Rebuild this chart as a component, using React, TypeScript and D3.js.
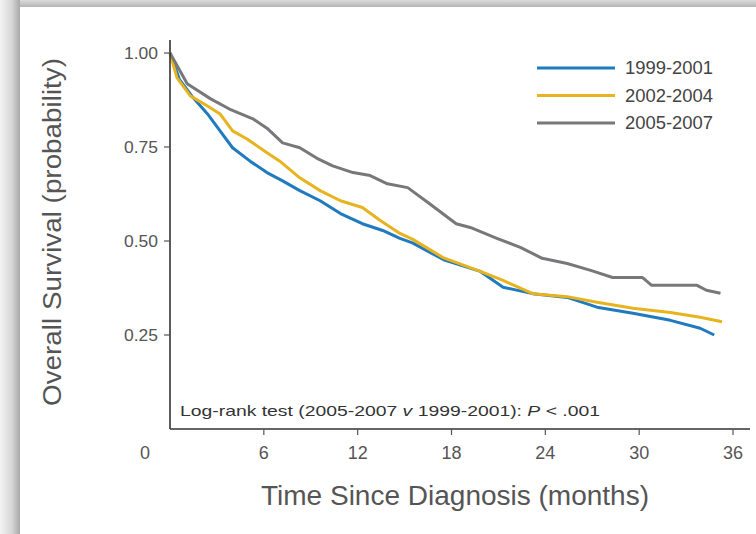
import React from "react";
import * as d3 from "d3";

const seriesNames = ["1999-2001", "2002-2004", "2005-2007"];
const seriesColors = ["#1f7abf", "#e7b41f", "#78787b"];

const months1999 = [0, 0.6, 1.5, 2.4, 3.2, 4.0, 5.1, 6.2, 7.2, 8.3, 9.6, 10.9, 12.3, 13.6, 14.7, 15.5, 17.5, 19.8, 21.3, 23.2, 25.4, 27.3, 29.6, 32.0, 33.9, 34.8];
const surv1999 = [1.0, 0.93, 0.88, 0.838, 0.793, 0.748, 0.713, 0.682, 0.66, 0.634, 0.607, 0.573, 0.546, 0.528, 0.507, 0.495, 0.45, 0.42, 0.377, 0.36, 0.35, 0.324, 0.308, 0.289, 0.268, 0.25];

const months2002 = [0, 0.45, 1.3, 2.4, 3.2, 4.0, 4.9, 6.2, 7.0, 8.3, 9.6, 10.9, 12.3, 13.4, 14.7, 15.5, 17.5, 19.8, 21.3, 23.2, 25.4, 27.3, 29.6, 32.0, 33.9, 35.3];
const surv2002 = [1.0, 0.934, 0.886, 0.859, 0.838, 0.793, 0.772, 0.735, 0.713, 0.668, 0.634, 0.607, 0.589, 0.556, 0.52, 0.505, 0.455, 0.42, 0.395, 0.36, 0.352, 0.337, 0.321, 0.31, 0.297, 0.285];

const months2005 = [0, 1.1, 2.6, 3.8, 5.3, 6.2, 7.2, 8.3, 9.4, 10.4, 11.7, 12.8, 13.9, 15.2, 16.6, 18.3, 19.2, 20.9, 22.4, 23.8, 25.4, 26.9, 28.3, 30.2, 30.8, 33.7, 34.3, 35.2];
const surv2005 = [1.0, 0.918, 0.878, 0.851, 0.825, 0.80, 0.761, 0.748, 0.72, 0.70, 0.682, 0.674, 0.652, 0.642, 0.599, 0.546, 0.536, 0.507, 0.483, 0.454, 0.44, 0.422, 0.403, 0.403, 0.382, 0.382, 0.369, 0.361];

const xTicks = [6, 12, 18, 24, 30, 36];
const yTicks = [0.25, 0.5, 0.75, 1.0];

const seriesMonths = [months1999, months2002, months2005];
const seriesSurv = [surv1999, surv2002, surv2005];

export default function App() {
  const W = 756;
  const H = 534;
  const x = d3.scaleLinear().domain([0, 36]).range([170, 733]);
  const y = d3.scaleLinear().domain([0, 1]).range([429, 53]);
  const line = d3
    .line<[number, number]>()
    .x((d) => x(d[0]))
    .y((d) => y(d[1]))
    .curve(d3.curveLinear);

  const x0 = x(0);
  const y0 = y(0);
  const font = "'Liberation Sans Narrow', 'Liberation Sans', Arial, sans-serif";

  return (
    <svg
      width={W}
      height={H}
      style={{ position: "absolute", left: 0, top: 0 }}
    >
      <defs>
        <linearGradient id="leftShadow" x1="0" x2="1" y1="0" y2="0">
          <stop offset="0" stopColor="#f4f4f4" />
          <stop offset="0.6" stopColor="#d6d6d6" />
          <stop offset="1" stopColor="#a8a8a8" />
        </linearGradient>
        <linearGradient id="topShadow" x1="0" x2="0" y1="0" y2="1">
          <stop offset="0" stopColor="#dcdcdc" />
          <stop offset="1" stopColor="#b4b4b4" />
        </linearGradient>
      </defs>
      <rect x={0} y={0} width={W} height={H} fill="#ffffff" />
      <rect x={0} y={0} width={W} height={7} fill="url(#topShadow)" />
      <rect x={0} y={0} width={20} height={H} fill="url(#leftShadow)" />

      {/* series */}
      {seriesMonths.map((ms, i) => {
        const pts: [number, number][] = ms.map((m, j) => [m, seriesSurv[i][j]]);
        return (
          <path
            key={seriesNames[i]}
            d={line(pts) || ""}
            fill="none"
            stroke={seriesColors[i]}
            strokeWidth={3}
            strokeLinejoin="round"
          />
        );
      })}

      {/* axes */}
      <line x1={x0} x2={x0} y1={40} y2={y0} stroke="#333" strokeWidth={1.6} />
      <line x1={x0} x2={750} y1={y0} y2={y0} stroke="#333" strokeWidth={1.6} />
      {yTicks.map((t) => (
        <g key={"y" + t}>
          <line x1={x0 - 6} x2={x0} y1={y(t)} y2={y(t)} stroke="#555" strokeWidth={1.2} />
          <text
            x={x0 - 12}
            y={y(t)}
            dy="0.35em"
            textAnchor="end"
            fontFamily={font}
            fontSize={17}
            fill="#555"
            textLength={34}
            lengthAdjust="spacingAndGlyphs"
          >
            {d3.format(".2f")(t)}
          </text>
        </g>
      ))}
      {xTicks.map((t) => (
        <g key={"x" + t}>
          <line x1={x(t)} x2={x(t)} y1={y0} y2={y0 + 6} stroke="#555" strokeWidth={1.2} />
          <text
            x={x(t)}
            y={y0 + 24}
            dy="0.35em"
            textAnchor="middle"
            fontFamily={font}
            fontSize={18}
            fill="#555"
          >
            {t}
          </text>
        </g>
      ))}
      <text
        x={x0 - 25}
        y={y0 + 24}
        dy="0.35em"
        textAnchor="middle"
        fontFamily={font}
        fontSize={18}
        fill="#555"
      >
        0
      </text>

      {/* axis titles */}
      <text
        transform={`translate(61, 232) rotate(-90)`}
        textAnchor="middle"
        fontFamily={font}
        fontSize={26}
        fill="#555"
        textLength={348}
        lengthAdjust="spacingAndGlyphs"
      >
        Overall Survival (probability)
      </text>
      <text
        x={455}
        y={505}
        textAnchor="middle"
        fontFamily={font}
        fontSize={27}
        fill="#555"
        textLength={388}
        lengthAdjust="spacingAndGlyphs"
      >
        Time Since Diagnosis (months)
      </text>

      {/* log-rank annotation */}
      <text
        x={180}
        y={416}
        fontFamily={font}
        fontSize={15}
        fill="#333"
        textLength={420}
        lengthAdjust="spacingAndGlyphs"
      >
        Log-rank test (2005-2007 <tspan fontStyle="italic">v</tspan> 1999-2001):{" "}
        <tspan fontStyle="italic">P</tspan> &lt; .001
      </text>

      {/* legend */}
      {seriesNames.map((n, i) => (
        <g key={"lg" + n}>
          <line
            x1={537}
            x2={615}
            y1={68 + i * 27.5}
            y2={68 + i * 27.5}
            stroke={seriesColors[i]}
            strokeWidth={3}
          />
          <text
            x={625}
            y={68 + i * 27.5}
            dy="0.35em"
            fontFamily={font}
            fontSize={18}
            fill="#444"
            textLength={88}
            lengthAdjust="spacingAndGlyphs"
          >
            {n}
          </text>
        </g>
      ))}
    </svg>
  );
}
